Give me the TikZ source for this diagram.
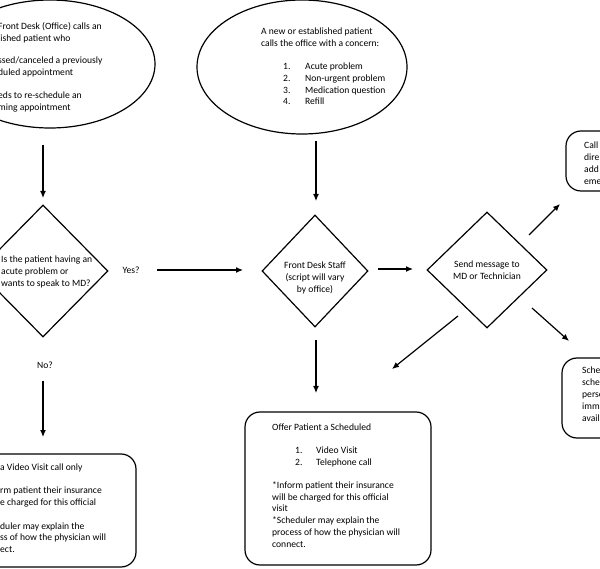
\documentclass[tikz,border=0pt]{standalone}
\usepackage{fontspec}
\setmainfont{Carlito}
\usetikzlibrary{shapes.geometric,arrows.meta}
\begin{document}
\begin{tikzpicture}[x=1pt,y=-1pt,
  shapeline/.style={draw=black,line width=1.2pt},
  oval/.style={shapeline,ellipse,inner sep=0pt},
  choice/.style={shapeline,diamond,inner sep=0pt},
  roundbox/.style={shapeline,rectangle,rounded corners=15pt,inner sep=0pt},
  txt/.style={inner sep=0pt,anchor=north west,align=left,font=\fontsize{9.6}{11.8}\selectfont},
  ctxt/.style={inner sep=0pt,align=center,font=\fontsize{9.6}{11.8}\selectfont},
  arr/.style={line width=1.2pt,-{Latex[length=7pt,width=6pt]}}]
\useasboundingbox (0,0) rectangle (600,569);
\clip (0,0) rectangle (600,569);

% shapes
\node[oval,minimum width=210,minimum height=128] (e1) at (50,64) {};
\node[oval,minimum width=210,minimum height=134] (e2) at (302,67) {};
\node[choice,minimum width=130,minimum height=132] (d1) at (43,271) {};
\node[choice,minimum width=106,minimum height=112] (d2) at (315,271) {};
\node[choice,minimum width=120,minimum height=116] (d3) at (487,270) {};
\node[roundbox,minimum width=200,minimum height=113] (b1) at (36,510.5) {};
\node[roundbox,minimum width=186,minimum height=153] (b2) at (338,488.5) {};
\node[roundbox,minimum width=114,minimum height=60] (b3) at (623,161) {};
\node[roundbox,minimum width=118,minimum height=80] (b4) at (621,398) {};

% texts
\node[txt] (e1t) at (-2,22) {Front Desk (Office) calls an\\lished patient who\\[11pt]ssed/canceled a previously\\duled appointment\\[11pt]eds to re-schedule an\\ming appointment};
\node[txt] (e2t) at (261,28) {A new or established patient\\calls the office with a concern:\\[11pt]
  \hspace*{22pt}\makebox[22pt][l]{1.}Acute problem\\
  \hspace*{22pt}\makebox[22pt][l]{2.}Non-urgent problem\\
  \hspace*{22pt}\makebox[22pt][l]{3.}Medication question\\
  \hspace*{22pt}\makebox[22pt][l]{4.}Refill};
\node[txt] (d1t) at (1,256) {Is the patient having an\\acute problem or\\wants to speak to MD?};
\node[ctxt] (d2t) at (315,278) {Front Desk Staff\\(script will vary\\by office)};
\node[ctxt] (d3t) at (487,270) {Send message to\\MD or Technician};
\node[ctxt] (yes) at (131,270) {Yes?};
\node[ctxt] (no) at (45,365) {No?};
\node[txt] (b1t) at (0,464) {a Video Visit call only\\[11pt]rm patient their insurance\\e charged for this official\\\mbox{}\\duler may explain the\\ss of how the physician will\\ect.};
\node[txt] (b2t) at (272,424) {Offer Patient a Scheduled\\[11pt]
  \hspace*{23pt}\makebox[21pt][l]{1.}Video Visit\\
  \hspace*{23pt}\makebox[21pt][l]{2.}Telephone call\\[11pt]
  *Inform patient their insurance\\will be charged for this official\\visit\\*Scheduler may explain the\\process of how the physician will\\connect.};
\node[txt] (b3t) at (584,142) {Call\\dire\\add\\eme};
\node[txt] (b4t) at (582,367) {Sche\\sche\\perso\\imm\\avail};

% connector end points
\coordinate (a1s) at (43,145);  \coordinate (a1e) at (43,198);
\coordinate (a2s) at (157,270); \coordinate (a2e) at (243,270);
\coordinate (a3s) at (43,381);  \coordinate (a3e) at (43,437);
\coordinate (a4s) at (316,141); \coordinate (a4e) at (316,201);
\coordinate (a5s) at (378,269); \coordinate (a5e) at (413,269);
\coordinate (a6s) at (529,235); \coordinate (a6e) at (560,204);
\coordinate (a7s) at (532,308); \coordinate (a7e) at (569,341);
\coordinate (a8s) at (458,316); \coordinate (a8e) at (392,369);
\coordinate (a9s) at (316,340); \coordinate (a9e) at (316,393);

\draw[arr] (a1s) -- (a1e);
\draw[arr] (a2s) -- (a2e);
\draw[arr] (a3s) -- (a3e);
\draw[arr] (a4s) -- (a4e);
\draw[arr] (a5s) -- (a5e);
\draw[arr] (a6s) -- (a6e);
\draw[arr] (a7s) -- (a7e);
\draw[arr] (a8s) -- (a8e);
\draw[arr] (a9s) -- (a9e);
\end{tikzpicture}
\end{document}
